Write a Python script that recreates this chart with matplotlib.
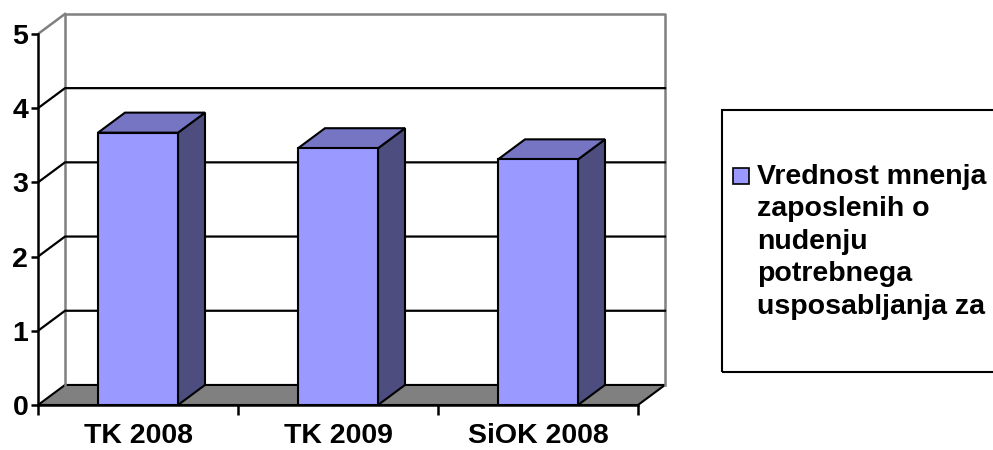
import matplotlib.pyplot as plt
from matplotlib.patches import Polygon, Rectangle

plt.rcParams['font.family'] = ['Liberation Sans', 'DejaVu Sans']
plt.rcParams['font.weight'] = 'bold'

# Data
categories = ['TK 2008', 'TK 2009', 'SiOK 2008']
values = [3.67, 3.46, 3.31]
series_label = 'Vrednost mnenja\nzaposlenih o\nnudenju\npotrebnega\nusposabljanja za'
y_ticks = [0, 1, 2, 3, 4, 5]

# 3D look settings (depth offset in data units)
dx = 0.135
dy = 0.27
half_w = 0.2
front_col = '#9999FF'
top_col = '#7575C4'
side_col = '#4D4D80'
wall_col = '#808080'


def draw_chart():
    fig = plt.figure(figsize=(9.93, 4.5), dpi=100)
    ax = fig.add_axes([38 / 993, 45 / 450, 632 / 993, 397 / 450])
    n = len(categories)
    ax.set_xlim(-0.5, n - 0.5 + 0.16)
    ax.set_ylim(0, 5.35)
    ymax = y_ticks[-1]
    x0, x1 = -0.5, n - 0.5

    # floor
    ax.add_patch(Polygon([(x0, 0), (x1, 0), (x1 + dx, dy), (x0 + dx, dy)],
                         closed=True, facecolor=wall_col, edgecolor='black',
                         lw=1.5, zorder=1))
    # back wall borders
    ax.plot([x0 + dx, x0 + dx, x1 + dx, x1 + dx],
            [dy, ymax + dy, ymax + dy, dy], color=wall_col, lw=1.8, zorder=1)
    ax.plot([x0, x0 + dx], [ymax, ymax + dy], color=wall_col, lw=1.8, zorder=1)
    # gridlines
    for t in y_ticks[1:-1]:
        ax.plot([x0, x0 + dx, x1 + dx], [t, t + dy, t + dy],
                color='black', lw=1.6, zorder=1.5)

    # bars
    for i, v in enumerate(values):
        l, r = i - half_w, i + half_w
        ax.add_patch(Polygon([(r, 0), (r + dx, dy), (r + dx, v + dy), (r, v)],
                             closed=True, facecolor=side_col,
                             edgecolor='black', lw=1.5, zorder=3))
        ax.add_patch(Polygon([(l, v), (r, v), (r + dx, v + dy), (l + dx, v + dy)],
                             closed=True, facecolor=top_col,
                             edgecolor='black', lw=1.5, zorder=3))
        front = Rectangle((l, 0), 2 * half_w, v, facecolor=front_col,
                          edgecolor='black', lw=1.5, zorder=4)
        ax.add_patch(front)

    # axes lines
    for s in ['top', 'right']:
        ax.spines[s].set_visible(False)
    ax.spines['left'].set_bounds(0, ymax)
    ax.spines['bottom'].set_bounds(x0, x1)
    ax.spines['left'].set_linewidth(1.8)
    ax.spines['bottom'].set_linewidth(1.8)
    ax.spines['left'].set_zorder(5)
    ax.spines['bottom'].set_zorder(5)
    ax.set_yticks(y_ticks)
    ax.tick_params(axis='y', length=5, width=1.8, labelsize=20.5, pad=2)
    ax.set_xticks([x0 + k for k in range(n + 1)])
    ax.set_xticklabels([])
    ax.set_xticks(range(n), minor=True)
    ax.set_xticklabels(categories, minor=True)
    ax.tick_params(axis='x', which='major', length=7, width=1.8)
    ax.tick_params(axis='x', which='minor', length=0, labelsize=20.5, pad=13)
    ax.set_facecolor('none')

    # legend box, marker and wrapped label
    fig.patches.append(Rectangle((722 / 993, (450 - 372) / 450), 0.3, 262 / 450,
                                 transform=fig.transFigure, fill=False,
                                 edgecolor='black', lw=1.5))
    fig.patches.append(Rectangle((733 / 993, (450 - 184) / 450), 16 / 993, 16 / 450,
                                 transform=fig.transFigure, facecolor=front_col,
                                 edgecolor='black', lw=1.2))
    fig.text(757 / 993, (450 - 164) / 450, series_label, ha='left', va='top',
             fontsize=20.5, fontweight='bold', linespacing=1.32)

    fig.savefig('out.png', dpi=100)


if __name__ == '__main__':
    draw_chart()
